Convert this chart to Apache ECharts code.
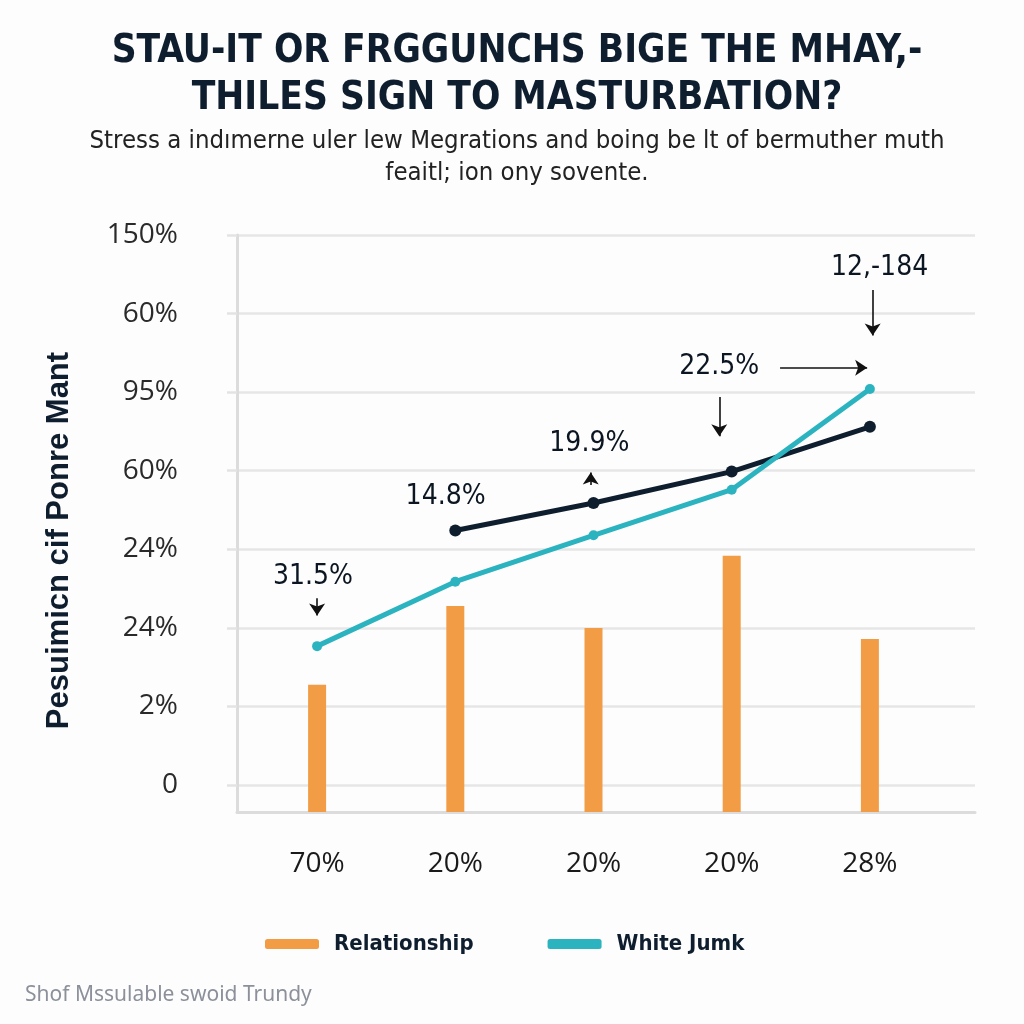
<!DOCTYPE html>
<html><head><meta charset="utf-8">
<script src="https://cdn.jsdelivr.net/npm/echarts@6/dist/echarts.min.js"></script>
<style>html,body{margin:0;padding:0;background:#fdfdfd}#c{width:1024px;height:1024px}</style>
</head><body><div id="c"></div>
<script>
// ---- data ----
const categories = ['70%', '20%', '20%', '20%', '28%'];
const yTickLabels = ['0', '2%', '24%', '24%', '60%', '95%', '60%', '150%'];
const relationship = [1.62, 2.62, 2.34, 3.26, 2.20];
const whiteJumk = [2.11, 2.93, 3.52, 4.10, 5.38];
const darkLine = [null, 3.58, 3.93, 4.33, 4.90];
const annotationTexts = ['31.5%', '14.8%', '19.9%', '22.5%', '12,-184'];

// ---- layout of annotations (axis units) ----
const annotationAnchors = [[-0.03, 2.99], [0.93, 4.01], [1.97, 4.68], [2.91, 5.66], [4.07, 6.93]];
const arrowPaths = [
  [[0, 2.72], [0, 2.50]],
  [[1.98, 4.16], [1.98, 4.32]],
  [[2.91, 5.28], [2.91, 4.78]],
  [[3.35, 5.65], [3.98, 5.65]],
  [[4.02, 6.64], [4.02, 6.06]]
];

const NAVY = '#0f1e2e';
const chart = echarts.init(document.getElementById('c'), null, {renderer: 'canvas'});
const titleFont = '"Liberation Sans Narrow","DejaVu Sans Condensed","Roboto Condensed","Liberation Sans",sans-serif';

chart.setOption({
  backgroundColor: '#fdfdfd',
  animation: false,
  title: [
    {text: 'STAU-IT OR FRGGUNCHS BIGE THE MHAY,-\nTHILES SIGN TO MASTURBATION?', left: 512, top: 23,
     textAlign: 'center',
     textStyle: {fontFamily: titleFont, fontWeight: 'bold', fontSize: 38.5, lineHeight: 47, color: NAVY, align: 'center'}},
    {text: 'Stress a indımerne uler lew Megrations and boing be lt of bermuther muth\nfeaitl; ion ony sovente.', left: 512, top: 120,
     textAlign: 'center',
     textStyle: {fontFamily: titleFont, fontWeight: 'normal', fontSize: 25.5, lineHeight: 32, color: '#222', align: 'center'}},
    {text: 'Shof Mssulable swoid Trundy', left: 20, top: 980,
     textStyle: {fontFamily: '"Noto Sans",sans-serif', fontWeight: 'normal', fontSize: 21, color: '#8b909a'}}
  ],
  legend: {
    data: ['Relationship', 'White Jumk'], left: 260, top: 928,
    icon: 'roundRect', itemWidth: 54, itemHeight: 10, itemGap: 74,
    textStyle: {fontFamily: titleFont, fontWeight: 'bold', fontSize: 22, color: NAVY, padding: [0, 0, 0, 10]}
  },
  grid: [
    {left: 237, right: 49, top: 235, bottom: 212},
    {left: 237, right: 49, top: 235, bottom: 239},
    {left: 248, right: 85, top: 235, bottom: 212}
  ],
  xAxis: [
    {gridIndex: 0, type: 'value', min: 0, max: 1, axisLine: {show: true, lineStyle: {color: '#dcdcdc', width: 3}},
     axisTick: {show: false}, axisLabel: {show: false}, splitLine: {show: false}},
    {gridIndex: 1, type: 'value', min: 0, max: 1, show: false},
    {gridIndex: 2, type: 'category', data: categories, axisLine: {show: false}, axisTick: {show: false},
     axisLabel: {fontFamily: '"Open Sans","Noto Sans",sans-serif', fontSize: 28, color: '#1a1a1a', margin: 38}},
    {gridIndex: 2, type: 'value', min: -0.5, max: 4.5, show: false, position: 'top'}
  ],
  yAxis: [
    {gridIndex: 0, type: 'value', min: 0, max: 1, axisLine: {show: true, lineStyle: {color: '#dcdcdc', width: 3}},
     axisTick: {show: false}, axisLabel: {show: false}, splitLine: {show: false},
     name: 'Pesuimicn cif Ponre Mant', nameLocation: 'middle', nameRotate: 90, nameGap: 162,
     nameTextStyle: {fontFamily: '"Liberation Sans","Noto Sans",sans-serif', fontWeight: 'bold', fontSize: 31,
                     color: NAVY, padding: [0, 34, 0, 0]}},
    {gridIndex: 1, type: 'value', min: 0, max: 7, interval: 1,
     axisLine: {show: false},
     axisTick: {show: true, length: 10, lineStyle: {color: '#e3e3e3', width: 2.5}},
     splitLine: {show: true, lineStyle: {color: '#e6e6e6', width: 2.5}},
     axisLabel: {formatter: v => yTickLabels[Math.round(v)], margin: 59,
                 fontFamily: '"Open Sans","Noto Sans",sans-serif', fontSize: 28, color: '#2a2a2a'}},
    {gridIndex: 2, type: 'value', min: 0, max: 7.34, show: false}
  ],
  series: [
    {name: 'Relationship', type: 'bar', xAxisIndex: 2, yAxisIndex: 2, data: relationship, barWidth: 18,
     itemStyle: {color: '#f29d45'}},
    {name: 'Dark', type: 'line', xAxisIndex: 2, yAxisIndex: 2, data: darkLine, symbol: 'circle', symbolSize: 12,
     lineStyle: {color: NAVY, width: 5}, itemStyle: {color: NAVY}, connectNulls: false},
    {name: 'White Jumk', type: 'line', xAxisIndex: 2, yAxisIndex: 2, data: whiteJumk, symbol: 'circle', symbolSize: 10,
     lineStyle: {color: '#2bb3c0', width: 5}, itemStyle: {color: '#2bb3c0'}},
    {name: 'annotations', type: 'scatter', xAxisIndex: 3, yAxisIndex: 2, symbolSize: 0, silent: true,
     itemStyle: {opacity: 1, color: NAVY},
     data: annotationAnchors.map((p, i) => [p[0], p[1], annotationTexts[i]]),
     label: {show: true, position: 'inside', formatter: p => p.value[2], opacity: 1,
             fontFamily: titleFont, fontSize: 28, color: '#0b1622'},
     markLine: {silent: true, symbol: ['none', 'arrow'], symbolSize: 12,
                lineStyle: {color: '#111', width: 1.6, type: 'solid', opacity: 1}, label: {show: false},
                data: arrowPaths.map(a => [{coord: a[0]}, {coord: a[1]}])}}
  ]
});
</script></body></html>
